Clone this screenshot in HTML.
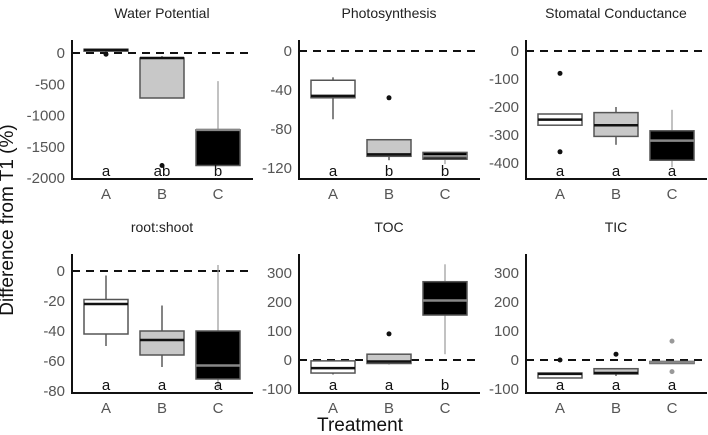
<!DOCTYPE html>
<html><head><meta charset="utf-8"><style>
html,body{margin:0;padding:0;background:#fff;}
svg{display:block;font-family:"Liberation Sans",Arial,sans-serif;}
</style></head><body>
<svg id="chart" width="708" height="435" viewBox="0 0 708 435">
<text x="13" y="220" transform="rotate(-90 13 220)" text-anchor="middle" font-size="19" fill="#111">Difference from T1 (%)</text>
<text x="360" y="431" text-anchor="middle" font-size="19" fill="#111">Treatment</text>
</svg>
<script>
const categories = ["A","B","C"];
const panelTitles = ["Water Potential","Photosynthesis","Stomatal Conductance","root:shoot","TOC","TIC"];
const tickLabels = [
  [0,-500,-1000,-1500,-2000],
  [0,-40,-80,-120],
  [0,-100,-200,-300,-400],
  [0,-20,-40,-60,-80],
  [300,200,100,0,-100],
  [300,200,100,0,-100]
];
// each panel: [lowWhisker, q1, median, q3, highWhisker] for A,B,C
const wpStats = [[20,30,50,60,62],[-720,-720,-80,-80,-50],[-1800,-1800,-1230,-1230,-450]];
const photoStats = [[-70,-48,-46,-30,-27],[-112,-108,-106,-91,-91],[-116,-111,-108,-104,-104]];
const stomStats = [[-265,-265,-245,-225,-225],[-335,-305,-265,-220,-200],[-415,-390,-320,-285,-210]];
const rsStats = [[-50,-42,-22,-19,-3],[-64,-56,-46,-40,-23],[-78,-72,-63,-40,4]];
const tocStats = [[-50,-45,-28,-3,-3],[-15,-12,-5,20,20],[20,155,205,270,330]];
const ticStats = [[-62,-62,-48,-45,-45],[-55,-48,-45,-30,-30],[-12,-12,-8,-5,-5]];
const outliers = [
  [[-20],[-1800],[]],
  [[],[-48],[]],
  [[-80,-360],[],[]],
  [[],[],[]],
  [[],[90],[]],
  [[0],[20],[65,-40]]
];
const letters = [["a","ab","b"],["a","b","b"],["a","a","a"],["a","a","a"],["a","a","b"],["a","a","a"]];
const allStats = [wpStats,photoStats,stomStats,rsStats,tocStats,ticStats];

// layout (not data)
const axisX = [72,299,526,72,299,526];
const axisYBottom = [179,179,179,393,393,393];
const axisYTop = [40,40,40,254,254,254];
const zeroPx = [53,51,51,271,360,360];
const pxPerUnit = [125/2000,117/120,112/400,120/80,87/300,87/300];
const boxFill = ["#ffffff","#c8c8c8","#000000"];
const medColor = ["#111","#111","#888"];
const whiskColor = ["#333","#333","#999"];

const svg = document.getElementById('chart');
const NS = "http://www.w3.org/2000/svg";
function mk(tag, attrs){const e=document.createElementNS(NS,tag);for(const k in attrs)e.setAttribute(k,attrs[k]);svg.appendChild(e);return e;}

for(let p=0;p<6;p++){
  const ax=axisX[p], yb=axisYBottom[p], yt=axisYTop[p];
  const yS = v => zeroPx[p] - v*pxPerUnit[p];
  const xS = i => ax + 34 + i*56;
  const right = ax + 181;
  const t = mk('text',{x:ax+90,y:yt-22,'text-anchor':'middle','font-size':14,fill:'#222'});
  t.textContent = panelTitles[p];
  
  
  const z = mk('line',{x1:ax,x2:right,y1:yS(0),y2:yS(0),stroke:'#111','stroke-width':2,'stroke-dasharray':'8,6'});
  
  
  tickLabels[p].forEach(v=>{
    const tl = mk('text',{x:ax-7,y:yS(v)+5,'text-anchor':'end','font-size':15,fill:'#555'});
    tl.textContent = v;
    
    
  });
  categories.forEach((c,i)=>{
    const s = allStats[p][i];
    const x = xS(i), hw = 22;
    const w = mk('line',{x1:x,x2:x,y1:yS(s[0]),y2:yS(s[4]),stroke:whiskColor[i],'stroke-width':1.2});
    
    
    const top = Math.min(yS(s[1]),yS(s[3])), h = Math.max(Math.abs(yS(s[1])-yS(s[3])),1.5);
    const b = mk('rect',{x:x-hw,y:top,width:hw*2,height:h,fill:boxFill[i],stroke:'#555','stroke-width':1.5});
    
    
    const m = mk('line',{x1:x-hw,x2:x+hw,y1:yS(s[2]),y2:yS(s[2]),stroke:medColor[i],'stroke-width':2.5});
    
    
    outliers[p][i].forEach(v=>{
      const o = mk('circle',{cx:x,cy:yS(v),r:2.5,fill:i===2?'#999':'#111'});
      
      
    });
    const l = mk('text',{x:x,y:yb-3,'text-anchor':'middle','font-size':15,fill:'#111'});
    l.textContent = letters[p][i];
    
    
    const xl = mk('text',{x:x,y:yb+20,'text-anchor':'middle','font-size':15,fill:'#555'});
    xl.textContent = c;
    
    
  });
  const ya = mk('line',{x1:ax,x2:ax,y1:yt,y2:yb,stroke:'#111','stroke-width':2});
  
  
  const xa = mk('line',{x1:ax-1,x2:right,y1:yb,y2:yb,stroke:'#111','stroke-width':2});
  
  
}
</script>
</body></html>
